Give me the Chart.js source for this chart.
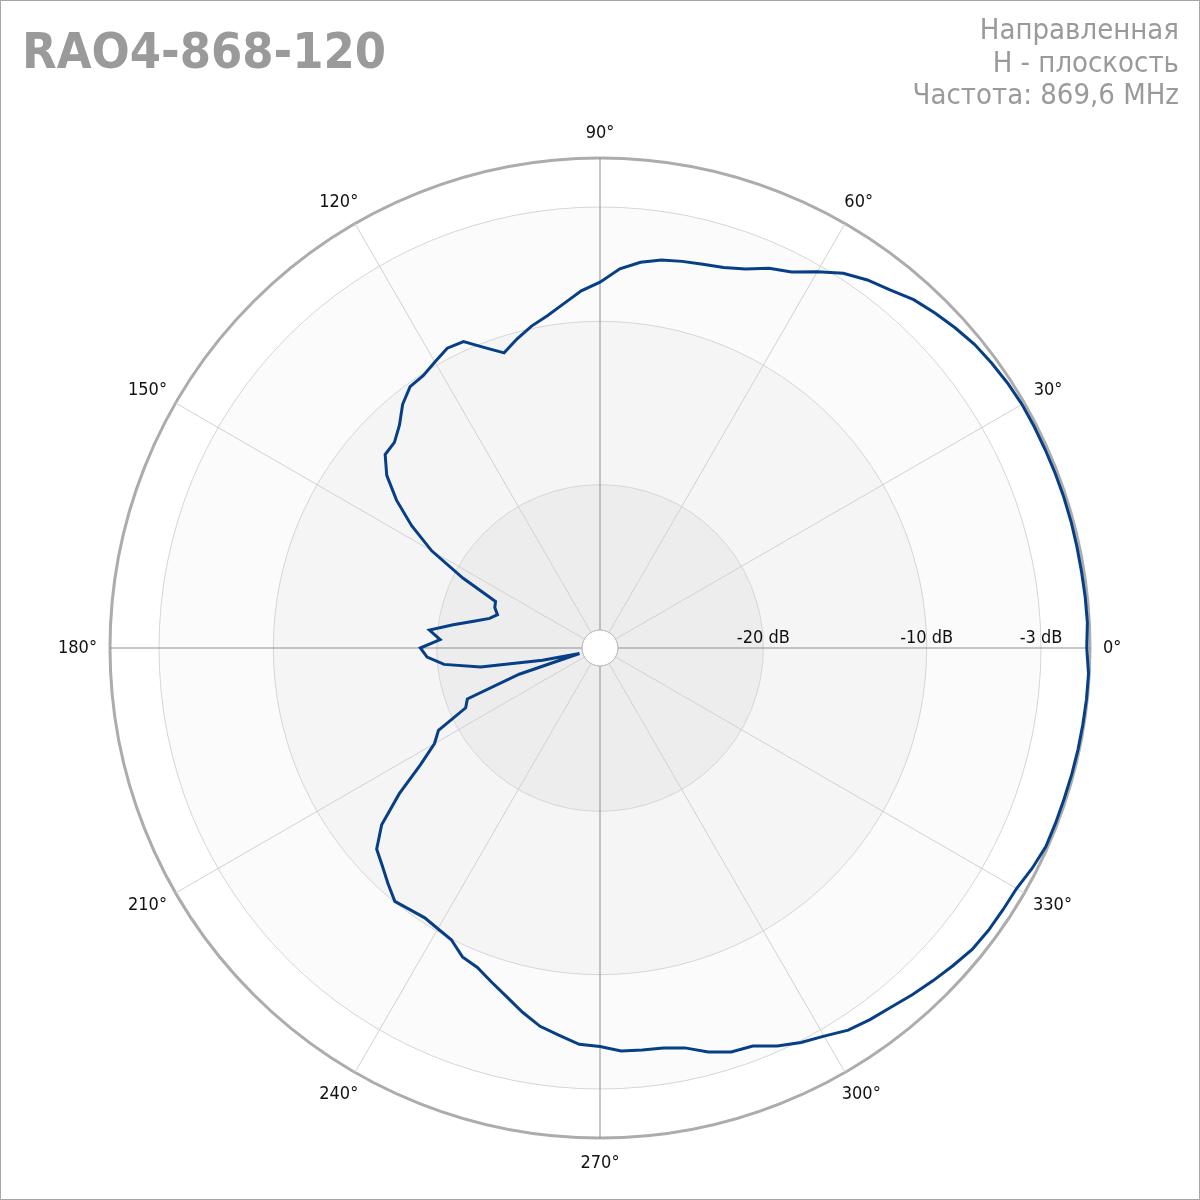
<!DOCTYPE html>
<html>
<head>
<meta charset="utf-8">
<title>RAO4-868-120</title>
<script src="https://cdn.jsdelivr.net/npm/chart.js@4.4.0/dist/chart.umd.min.js"></script>
<style>
  body { margin: 0; background: #fff; }
  #page { position: relative; width: 1200px; height: 1200px; overflow: hidden; }
  #frame { position: absolute; left: 0; top: 0; width: 1200px; height: 1200px; box-sizing: border-box; border: 1px solid #a6a6a6; pointer-events: none; }
  canvas { position: absolute; left: 0; top: 0; }
  #title { position: absolute; left: 22px; top: 26px; font: bold 50px/50px "DejaVu Sans Condensed", "DejaVu Sans", sans-serif; font-stretch: condensed; color: #9a9a9a; white-space: nowrap; }
  #info { position: absolute; right: 21px; top: 13px; text-align: right; font: 29px/32.7px "DejaVu Sans Condensed", "DejaVu Sans", sans-serif; font-stretch: condensed; color: #9a9a9a; white-space: nowrap; }
</style>
</head>
<body>
<div id="page">
  <canvas id="diagram" width="1200" height="1200"></canvas>
  <div id="title">RAO4-868-120</div>
  <div id="info">Направленная<br>H - плоскость<br>Частота: 869,6 MHz</div>
  <div id="frame"></div>
</div>
<script>
// угол (градусы, против часовой от 0° справа)
const angleDeg = [
  0, 3, 6, 9, 12, 15, 18, 21, 24, 27, 30, 33, 36, 39, 42, 45, 48, 51, 54, 57,
  60, 63, 66, 69, 72, 75, 78, 81, 84, 87, 90, 93, 96, 99, 102, 105, 108, 111, 114, 117,
  120, 123, 126, 129, 132, 135, 138, 141, 144, 147, 150, 153, 156, 159, 162, 165, 168, 171, 174, 177,
  180, 183, 186, 189, 192, 195, 198, 201, 204, 207, 210, 213, 216, 219, 222, 225, 228, 231, 234, 237,
  240, 243, 246, 249, 252, 255, 258, 261, 264, 267, 270, 273, 276, 279, 282, 285, 288, 291, 294, 297,
  300, 303, 306, 309, 312, 315, 318, 321, 324, 327, 330, 333, 336, 339, 342, 345, 348, 351, 354, 357
];

// уровень, dB
const gainDb = [
  -0.20, -0.12, -0.13, -0.15, -0.15, -0.14, -0.14, -0.15, -0.16, -0.16,
  -0.17, -0.24, -0.35, -0.48, -0.72, -1.00, -1.30, -1.79, -2.15, -2.65,
  -3.40, -4.17, -4.55, -5.15, -5.50, -5.68, -5.80, -5.95, -6.25, -6.75,
  -7.60, -8.10, -8.80, -9.40, -9.85, -10.40, -11.00, -10.30, -9.46, -9.40,
  -9.78, -10.12, -10.22, -10.80, -11.65, -12.20, -12.30, -13.20, -14.60, -16.25,
  -18.10, -20.60, -23.00, -23.10, -23.40, -23.00, -22.10, -20.90, -19.50, -20.20,
  -19.00, -19.40, -20.40, -22.60, -26.40, -28.70, -24.80, -21.30, -21.00, -18.90,
  -18.30, -16.90, -14.80, -12.80, -11.60, -11.15, -10.60, -10.04, -10.20, -10.30,
  -10.15, -9.95, -9.30, -9.05, -8.50, -7.90, -7.20, -6.55, -6.15, -5.70,
  -5.60, -5.30, -5.25, -5.20, -4.97, -4.40, -4.00, -3.90, -3.33, -2.89,
  -2.56, -2.10, -1.88, -1.70, -1.43, -1.18, -0.93, -0.68, -0.60, -0.58,
  -0.55, -0.30, -0.12, -0.12, -0.12, -0.10, -0.08, -0.07, -0.05, -0.05
];

const labelAngles = [0, 30, 60, 90, 120, 150, 180, 210, 240, 270, 300, 330];
const tickDb = [-20, -10, -3];
const ringDb = [0, -3, -10, -20];
const ringFill = ['#ffffff', '#fbfbfb', '#f5f5f5', '#ededed'];
const holeDb = -28.9;

const FONT = '"DejaVu Sans Condensed", "DejaVu Sans", sans-serif';

// radar идет по часовой стрелке, поэтому переставляем точки
const n = angleDeg.length;
const step = 360 / n;
const radarLabels = [];
const radarValues = [];
for (let i = 0; i < n; i++) {
  const k = (n - i) % n;
  radarLabels.push(angleDeg[k]);
  radarValues.push(gainDb[k]);
}

const polarDecor = {
  id: 'polarDecor',
  beforeDraw(chart) {
    const r = chart.scales.r;
    const ctx = chart.ctx;
    ctx.save();
    ringDb.forEach((v, k) => {
      ctx.beginPath();
      ctx.arc(r.xCenter, r.yCenter, r.getDistanceFromCenterForValue(v), 0, Math.PI * 2);
      ctx.fillStyle = ringFill[k];
      ctx.fill();
    });
    ctx.restore();
  },
  beforeDatasetsDraw(chart) {
    const r = chart.scales.r;
    const ctx = chart.ctx;
    ctx.save();
    ctx.beginPath();
    ctx.arc(r.xCenter, r.yCenter, r.getDistanceFromCenterForValue(holeDb), 0, Math.PI * 2);
    ctx.fillStyle = '#ffffff';
    ctx.fill();
    ctx.lineWidth = 1;
    ctx.strokeStyle = '#b4b4b4';
    ctx.stroke();
    ctx.restore();
  },
  afterDraw(chart) {
    const r = chart.scales.r;
    const ctx = chart.ctx;
    ctx.save();
    ctx.fillStyle = '#111';
    ctx.font = '18px ' + FONT;
    // подписи углов: точка за окружностью + сдвиг на половину размера текста
    ctx.textAlign = 'center';
    ctx.textBaseline = 'middle';
    labelAngles.forEach(a => {
      const idx = ((360 - a) % 360) / step;
      const p = r.getPointPosition(idx, r.drawingArea + 13);
      const txt = a + '°';
      const w = ctx.measureText(txt).width;
      const c = Math.cos(a * Math.PI / 180);
      const s = Math.sin(a * Math.PI / 180);
      ctx.fillText(txt, p.x + c * w / 2, p.y - s * 12);
    });
    // подписи уровней
    ctx.textBaseline = 'alphabetic';
    tickDb.forEach(v => {
      const p = r.getPointPosition(0, r.getDistanceFromCenterForValue(v));
      ctx.fillText(v + ' dB', p.x, p.y - 5);
    });
    ctx.restore();
  }
};

const ctx = document.getElementById('diagram').getContext('2d');
const myChart = new Chart(ctx, {
  type: 'radar',
  data: {
    labels: radarLabels,
    datasets: [{
      label: 'H',
      data: radarValues,
      borderColor: '#073f86',
      borderWidth: 3,
      fill: false,
      pointRadius: 0,
      tension: 0,
      clip: false
    }]
  },
  options: {
    responsive: false,
    animation: false,
    devicePixelRatio: 1,
    layout: { padding: { left: 110, right: 110, top: 158, bottom: 62 } },
    plugins: { legend: { display: false }, tooltip: { enabled: false } },
    scales: {
      r: {
        min: -30,
        max: 0,
        startAngle: 90,
        afterBuildTicks: s => { s.ticks = [-30].concat(tickDb, [0]).map(v => ({ value: v })); },
        ticks: { display: false },
        pointLabels: { display: false },
        grid: {
          circular: true,
          color: c => c.tick.value === 0 ? '#acacac' : '#d6d6d6',
          lineWidth: c => c.tick.value === 0 ? 3 : 1
        },
        angleLines: {
          color: c => radarLabels[c.index] % 90 === 0 ? '#8f8f8f' : '#d2d2d2',
          lineWidth: c => radarLabels[c.index] % 30 === 0 ? 1 : 0
        }
      }
    }
  },
  plugins: [polarDecor]
});
</script>
</body>
</html>
